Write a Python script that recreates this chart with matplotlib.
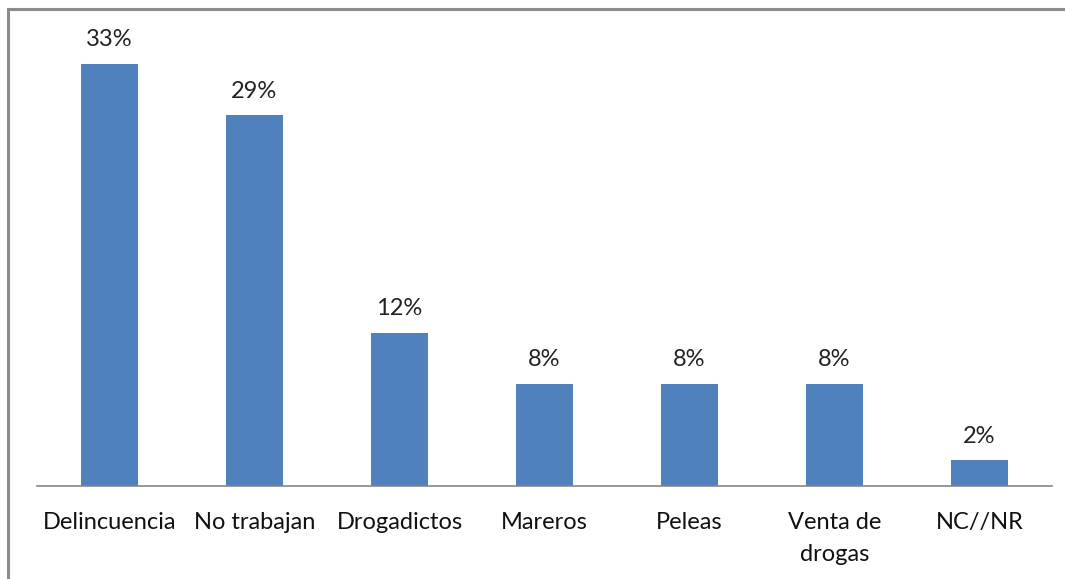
import matplotlib.pyplot as plt
from matplotlib.patches import Rectangle

# datos
categorias = ['Delincuencia', 'No trabajan', 'Drogadictos', 'Mareros', 'Peleas', 'Venta de\ndrogas', 'NC//NR']
valores = [33, 29, 12, 8, 8, 8, 2]
etiquetas = ['33%', '29%', '12%', '8%', '8%', '8%', '2%']

plt.rcParams['font.family'] = ['Lato', 'DejaVu Sans']

fig = plt.figure(figsize=(10.65, 5.79), dpi=100)
W, H = 1065, 579

# marco gris del área del gráfico (cortado en la imagen original)
fig.patches.append(Rectangle((8 / W, -0.1), 1.2, (579 - 9) / H + 0.1, transform=fig.transFigure,
                             fill=False, edgecolor='#8c8c8c', linewidth=2.2, zorder=0))

ax = fig.add_axes([37 / W, (579 - 486) / H, (1052 - 37) / W, (486 - 10) / H])
x = range(len(categorias))
ax.bar(x, valores, width=0.39, color='#4F81BD')

for xi, v, t in zip(x, valores, etiquetas):
    ax.annotate(t, (xi, v), xytext=(0, 10), textcoords='offset points',
                ha='center', va='bottom', fontsize=17, color='#222222')

ax.set_xlim(-0.5, 6.5)
ax.set_ylim(0, 37.25)
ax.set_xticks(list(x))
ax.set_xticklabels(categorias, fontsize=17, color='#111111', linespacing=1.6)
ax.tick_params(axis='x', length=0, pad=19)
ax.set_yticks([])
for s in ['top', 'right', 'left']:
    ax.spines[s].set_visible(False)
ax.spines['bottom'].set_color('#868686')
ax.spines['bottom'].set_linewidth(1.2)

fig.savefig('out.png', dpi=100)
